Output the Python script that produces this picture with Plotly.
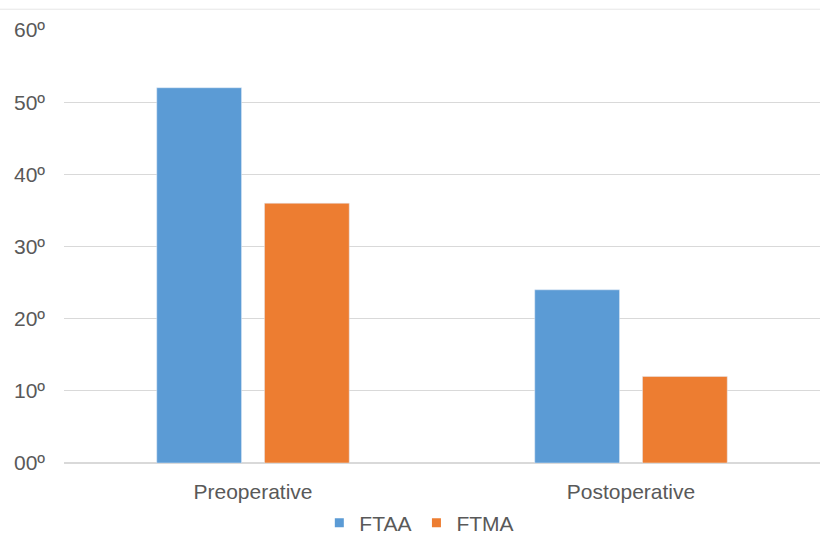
import plotly.graph_objects as go

categories = ["Preoperative", "Postoperative"]
ftaa = [52, 24]
ftma = [36, 12]
series_colors = {"FTAA": "#5B9BD5", "FTMA": "#ED7D31"}
tick_vals = [0, 10, 20, 30, 40, 50, 60]
tick_text = ["00º", "10º", "20º", "30º", "40º", "50º", "60º"]

fig = go.Figure()
fig.add_trace(go.Bar(name="FTAA", x=categories, y=ftaa, marker_color=series_colors["FTAA"],
                     showlegend=False))
fig.add_trace(go.Bar(name="FTMA", x=categories, y=ftma, marker_color=series_colors["FTMA"],
                     showlegend=False))

# small square legend keys
for name, color in series_colors.items():
    fig.add_trace(go.Scatter(name=name, x=[None], y=[None], mode="markers",
                             marker=dict(symbol="square", size=9, color=color),
                             showlegend=True))

fig.update_layout(
    width=827, height=555,
    margin=dict(l=64, r=7, t=30, b=92),
    paper_bgcolor="white", plot_bgcolor="white",
    barmode="group", bargap=0.43, bargroupgap=0.213,
    font=dict(family="Liberation Sans, Arial, sans-serif", color="#595959", size=21),
    legend=dict(orientation="h", x=0.47, xanchor="center", y=-0.139, yanchor="middle",
                font=dict(size=21), itemwidth=30, traceorder="normal"),
)
fig.update_xaxes(showline=False, ticks="", tickfont=dict(size=21), showgrid=False,
                 automargin=False, ticklabelstandoff=14)
fig.update_yaxes(range=[0, 60], tickvals=tick_vals, ticktext=tick_text,
                 showgrid=True, gridcolor="#D9D9D9", gridwidth=1,
                 zeroline=True, zerolinecolor="#D9D9D9", ticks="",
                 tickfont=dict(size=21), ticklabelstandoff=18, automargin=False)

# faint border line along the top edge
fig.add_shape(type="line", xref="paper", yref="paper", x0=-0.09, x1=1.0, y0=1.048, y1=1.048,
              line=dict(color="#E6E6E6", width=1))

fig.write_html("out.html")
